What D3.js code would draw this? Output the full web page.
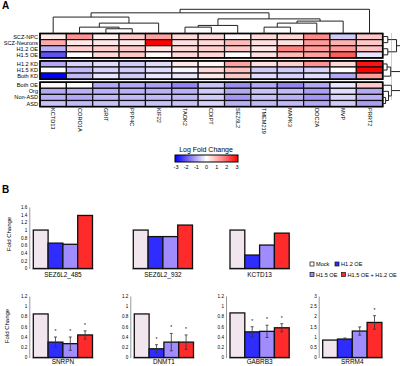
<!DOCTYPE html>
<html lang="en">
<head>
<meta charset="UTF-8">
<title>Heat map and fold change bars</title>
<script src="https://cdn.jsdelivr.net/npm/d3@7"></script>
<style>
  body { margin: 0; background: #fff; }
  svg { font-family: "Liberation Sans", Arial, sans-serif; }
</style>
</head>
<body>
<svg id="chart" width="400" height="366"></svg>
<script>
// ---- panel A data ----
var genes = ["KCTD13", "CORO1A", "GRIT", "PPP4C", "KIF22", "TAOK2", "CDIPT", "SEZ6L2", "TMEM219", "MAPK3", "DOC2A", "MVP", "PRRT2"];
var conditions = ["SCZ-NPC", "SCZ-Neurons", "H1.2 OE", "H1.5 OE", "H1.2 KD", "H1.5 KD", "Both KD", "Both OE", "Org", "Non-ASD", "ASD"];
var conditionGroup = [0, 0, 0, 0, 1, 1, 1, 2, 2, 2, 2];
var logFC = [
  [0.3, 1.4, 0.2, 0.7, 1.2, 0.5, 0.5, 0.1, 0.5, 0.5, 1.5, -0.6, 0.7],
  [1.1, 0.3, 0.3, 0.3, 3.0, 0.4, 0.5, 0.9, 0.4, 0.4, 1.3, 1.0, 0.7],
  [-0.9, 0.6, 0.6, 0.7, 0.3, 0.5, 0.6, 0.7, 0.3, 1.6, 1.3, 1.3, 0.8],
  [-2.0, 0.0, 0.5, 0.7, 0.05, 0.5, 0.5, 0.0, 0.4, 0.9, 1.2, 2.0, -0.3],
  [-1.0, -0.5, -0.4, -0.6, -0.4, 0.3, 0.1, 1.2, 0.4, 0.6, 1.4, 0.5, 2.8],
  [0.0, -0.8, -0.5, -0.6, -0.4, -0.1, 0.5, 0.8, -0.6, -0.6, -0.5, 0.0, 3.0],
  [-3.0, -0.8, -0.3, -0.6, -0.3, -0.3, 0.3, 0.7, -0.4, -0.5, -0.4, -1.0, 1.3],
  [0.1, 0.05, -1.0, -1.0, -1.1, -1.4, -0.7, -1.3, -1.0, -1.4, -1.0, -0.3, 0.7],
  [-1.0, -0.9, -0.9, -0.9, -0.9, -0.9, -0.6, -1.0, -0.7, -0.8, -1.1, -0.4, -1.0],
  [-0.9, -1.0, -0.8, -0.8, -0.8, -0.8, -0.6, -1.2, -0.7, -0.9, -1.2, -0.5, -0.9],
  [-0.7, -0.8, -0.7, -0.7, -0.7, -0.7, -0.5, -0.9, -0.8, -0.8, -1.0, -0.6, -1.1]
];
// dendrograms: {h: merge height, c: children}, leaves are names
var colTree = {h: 24, c: [
  {h: 20.5, c: [
    {h: 16.3, c: ["KCTD13", {h: 10.3, c: [{h: 6.3, c: ["CORO1A", {h: 4.7, c: ["GRIT", "PPP4C"]}]}, "KIF22"]}]},
    {h: 14.5, c: [
      {h: 8, c: [{h: 6.3, c: ["TAOK2", "CDIPT"]}, "SEZ6L2"]},
      {h: 12.3, c: [{h: 10.3, c: [{h: 6.3, c: ["TMEM219", "MAPK3"]}, "DOC2A"]}, "MVP"]}
    ]}
  ]},
  "PRRT2"
]};
var rowTree = {h: 16, c: [
  {h: 13, c: [
    {h: 9.5, c: [{h: 3.5, c: ["SCZ-NPC", "SCZ-Neurons"]}, {h: 3.5, c: ["H1.2 OE", "H1.5 OE"]}]},
    {h: 5.5, c: [{h: 3, c: ["H1.2 KD", "H1.5 KD"]}, "Both KD"]}
  ]},
  {h: 6, c: ["Both OE", {h: 4, c: ["Org", {h: 2, c: ["Non-ASD", "ASD"]}]}]}
]};
var legendTicks = [-3, -2, -1, 0, 1, 2, 3];

// ---- panel B data ----
var treatments = ["Mock", "H1.2 OE", "H1.5 OE", "H1.5 OE + H1.2 OE"];
var topGenes = ["SEZ6L2_485", "SEZ6L2_932", "KCTD13"];
var topFold = [
  [1.0, 0.66, 0.63, 1.38],
  [1.0, 0.83, 0.83, 1.13],
  [1.0, 0.35, 0.61, 0.92]
];
var topTicks = [0, 0.2, 0.4, 0.6, 0.8, 1, 1.2, 1.4, 1.6];
var bottomGenes = ["SNRPN", "DNMT1", "GABRB3", "SRRM4"];
var bottomFold = [
  [0.85, 0.30, 0.27, 0.44],
  [0.85, 0.17, 0.30, 0.30],
  [0.87, 0.50, 0.51, 0.58],
  [0.85, 0.90, 1.29, 1.71]
];
var bottomErr = [
  [0, 0.10, 0.13, 0.08],
  [0, 0.08, 0.17, 0.14],
  [0, 0.10, 0.12, 0.08],
  [0, 0.05, 0.20, 0.33]
];
var bottomStar = [
  [0, 1, 1, 1],
  [0, 1, 1, 1],
  [0, 1, 1, 1],
  [0, 0, 0, 1]
];
var bottomMax = [1.2, 1.2, 1.2, 3];
var bottomTicks = [
  [0, 0.2, 0.4, 0.6, 0.8, 1, 1.2],
  [0, 0.2, 0.4, 0.6, 0.8, 1, 1.2],
  [0, 0.2, 0.4, 0.6, 0.8, 1, 1.2],
  [0, 0.5, 1, 1.5, 2, 2.5, 3]
];

var svg = d3.select("#chart");

// ================= panel A =================
svg.append("text").attr("x", 2).attr("y", 9).text("A")
  .style("font-size", "10px").style("font-weight", "bold");

var heatLeft = 40, heatRight = 382.7, heatTop = 33.5;
var rowH = 6.1, groupGap = 3;

var x = d3.scaleBand().domain(genes).range([heatLeft, heatRight]);
var rowY = function (i) { return heatTop + i * rowH + conditionGroup[i] * groupGap; };

var color = d3.scaleLinear()
  .domain([-3, -1.5, 0, 1.5, 3])
  .range(["#0000ff", "#8c7cf2", "#ffffff", "#ff8a8a", "#ff0000"]);

var heat = svg.append("g");
logFC.forEach(function (row, i) {
  heat.selectAll(null)
    .data(row)
    .enter()
    .append("rect")
    .attr("x", function (d, j) { return x(genes[j]); })
    .attr("y", rowY(i))
    .attr("width", x.bandwidth())
    .attr("height", rowH)
    .style("fill", function (d) { return color(d); })
    .style("stroke", "#111")
    .style("stroke-width", 1.2);
});
// outer frame of each block
[0, 1, 2].forEach(function (g) {
  var idx = conditionGroup.map(function (v, i) { return v === g ? i : -1; }).filter(function (i) { return i >= 0; });
  heat.append("rect")
    .attr("x", heatLeft).attr("y", rowY(idx[0]))
    .attr("width", heatRight - heatLeft).attr("height", idx.length * rowH)
    .style("fill", "none").style("stroke", "#000").style("stroke-width", 1.6);
});

// row labels
svg.selectAll(".rowlab")
  .data(conditions)
  .enter()
  .append("text")
  .attr("x", 38)
  .attr("y", function (d, i) { return rowY(i) + rowH / 2; })
  .attr("dy", "0.35em")
  .attr("text-anchor", "end")
  .style("font-size", "5.6px")
  .text(function (d) { return d; });

// column labels
svg.selectAll(".collab")
  .data(genes)
  .enter()
  .append("text")
  .attr("transform", function (d) { return "translate(" + (x(d) + x.bandwidth() / 2 - 2) + ",108) rotate(90)"; })
  .style("font-size", "5.6px")
  .text(function (d) { return d; });

// column dendrogram
var colHier = d3.hierarchy(colTree, function (d) { return typeof d === "string" ? null : d.c; });
var colH = d3.scaleLinear().domain([0, 24]).range([heatTop, 9.3]);
colHier.eachAfter(function (n) {
  if (n.children) {
    n.px = d3.mean(n.children, function (c) { return c.px; });
    n.py = colH(n.data.h);
  } else {
    n.px = x(n.data) + x.bandwidth() / 2;
    n.py = heatTop;
  }
});
var dendro = svg.append("g").style("stroke", "#222").style("stroke-width", 1).style("fill", "none");
colHier.descendants().filter(function (n) { return n.children; }).forEach(function (n) {
  var p = "M" + n.children[0].px + "," + n.py + "H" + n.children[n.children.length - 1].px;
  n.children.forEach(function (c) { p += "M" + c.px + "," + n.py + "V" + c.py; });
  dendro.append("path").attr("d", p);
});

// row dendrogram
var rowHier = d3.hierarchy(rowTree, function (d) { return typeof d === "string" ? null : d.c; });
var rowHx = d3.scaleLinear().domain([0, 16]).range([heatRight, 406]);
rowHier.eachAfter(function (n) {
  if (n.children) {
    n.py = d3.mean(n.children, function (c) { return c.py; });
    n.px = rowHx(n.data.h);
  } else {
    var i = conditions.indexOf(n.data);
    n.py = rowY(i) + rowH / 2;
    n.px = heatRight;
  }
});
rowHier.descendants().filter(function (n) { return n.children; }).forEach(function (n) {
  var p = "M" + n.px + "," + n.children[0].py + "V" + n.children[n.children.length - 1].py;
  n.children.forEach(function (c) { p += "M" + n.px + "," + c.py + "H" + c.px; });
  dendro.append("path").attr("d", p);
});
svg.append("line")
  .attr("x1", 391.5).attr("x2", 391.5).attr("y1", heatTop).attr("y2", 100)
  .style("stroke", "#7a8a99").style("stroke-width", 0.8).style("stroke-dasharray", "1,1");

// color legend
var legX = d3.scaleLinear().domain([-3, 3]).range([176, 237]);
var grad = svg.append("defs").append("linearGradient").attr("id", "lfc");
d3.range(-3, 3.01, 0.5).forEach(function (v) {
  grad.append("stop").attr("offset", ((v + 3) / 6 * 100) + "%").attr("stop-color", color(v));
});
svg.append("text").attr("x", 206).attr("y", 152).attr("text-anchor", "middle")
  .style("font-size", "7px").text("Log Fold Change");
svg.append("rect").attr("x", 175).attr("y", 155).attr("width", 63).attr("height", 7)
  .style("fill", "url(#lfc)").style("stroke", "#000").style("stroke-width", 1);
svg.selectAll(".legtick")
  .data(legendTicks)
  .enter()
  .append("text")
  .attr("x", function (d) { return legX(d); })
  .attr("y", 168.5)
  .attr("text-anchor", "middle")
  .style("font-size", "5.5px")
  .text(function (d) { return d; });

// ================= panel B =================
svg.append("text").attr("x", 2).attr("y", 193).text("B")
  .style("font-size", "10px").style("font-weight", "bold");

var barFill = ["#f1e6ee", "#2f2cff", "#a08cff", "#ff2b2b"];
var barW = 14.8;

function drawBars(left, gene, vals, errs, stars, yScale, ticks, showAxis, labelY) {
  var g = svg.append("g");
  var bx = d3.scaleBand().domain(treatments).range([left, left + 4 * barW]);
  if (showAxis) {
    var ax = g.append("g")
      .attr("transform", "translate(" + (left - 4) + ",0)")
      .call(d3.axisLeft(yScale).tickValues(ticks).tickSize(0).tickPadding(2).tickFormat(d3.format("~g")));
    ax.select(".domain").style("stroke", "#999").style("stroke-width", 1);
    ax.selectAll("text").style("font-size", "4.6px").style("font-family", "Liberation Sans, Arial, sans-serif");
  }
  g.append("line")
    .attr("x1", left - 1).attr("x2", left + 4 * barW + 1)
    .attr("y1", yScale(0) + 0.5).attr("y2", yScale(0) + 0.5)
    .style("stroke", "#888").style("stroke-width", 1);
  g.selectAll("rect")
    .data(vals)
    .enter()
    .append("rect")
    .attr("x", function (d, i) { return bx(treatments[i]); })
    .attr("y", function (d) { return yScale(d); })
    .attr("width", bx.bandwidth())
    .attr("height", function (d) { return yScale(0) - yScale(d); })
    .style("fill", function (d, i) { return barFill[i]; })
    .style("stroke", "#111")
    .style("stroke-width", 1.3);
  if (errs) {
    vals.forEach(function (v, i) {
      if (!errs[i]) return;
      var cx = bx(treatments[i]) + bx.bandwidth() / 2;
      var y1 = yScale(v + errs[i]), y2 = yScale(v - errs[i]);
      g.append("path")
        .attr("d", "M" + cx + "," + y1 + "V" + y2 + "M" + (cx - 1.5) + "," + y1 + "H" + (cx + 1.5) + "M" + (cx - 1.5) + "," + y2 + "H" + (cx + 1.5))
        .style("stroke", "#333").style("stroke-width", 0.8).style("fill", "none");
      if (stars[i]) {
        g.append("text")
          .attr("x", cx).attr("y", yScale(v + errs[i]) - 4)
          .attr("text-anchor", "middle")
          .style("font-size", "5px")
          .text("*");
      }
    });
  }
  g.append("text")
    .attr("x", left + 2 * barW).attr("y", labelY)
    .attr("text-anchor", "middle")
    .style("font-size", "6.4px")
    .text(gene);
}

var topY = d3.scaleLinear().domain([0, 1.6]).range([268.5, 207]);
var topLefts = [33.3, 133.3, 230];
topGenes.forEach(function (gname, k) {
  drawBars(topLefts[k], gname, topFold[k], null, null, topY, topTicks, k === 0, 276.5);
});
svg.append("text")
  .attr("transform", "translate(11,234) rotate(-90)")
  .attr("text-anchor", "middle")
  .style("font-size", "6px")
  .text("Fold Change");

var bottomLefts = [33.3, 134.3, 230, 322.7];
bottomGenes.forEach(function (gname, k) {
  var yS = d3.scaleLinear().domain([0, bottomMax[k]]).range([357.5, 296]);
  drawBars(bottomLefts[k], gname, bottomFold[k], bottomErr[k], bottomStar[k], yS, bottomTicks[k], true, 363.5);
});
svg.append("text")
  .attr("transform", "translate(9,326) rotate(-90)")
  .attr("text-anchor", "middle")
  .style("font-size", "6px")
  .text("Fold Change");

// panel B legend
var legendPos = [[310, 266], [335, 266], [310, 276.5], [341.5, 276.5]];
treatments.forEach(function (t, i) {
  svg.append("rect")
    .attr("x", legendPos[i][0]).attr("y", legendPos[i][1] - 4)
    .attr("width", 4).attr("height", 4)
    .style("fill", i === 0 ? "#fff" : barFill[i])
    .style("stroke", "#111").style("stroke-width", 0.7);
  svg.append("text")
    .attr("x", legendPos[i][0] + 6).attr("y", legendPos[i][1])
    .style("font-size", "5.6px")
    .text(t);
});
</script>
</body>
</html>
